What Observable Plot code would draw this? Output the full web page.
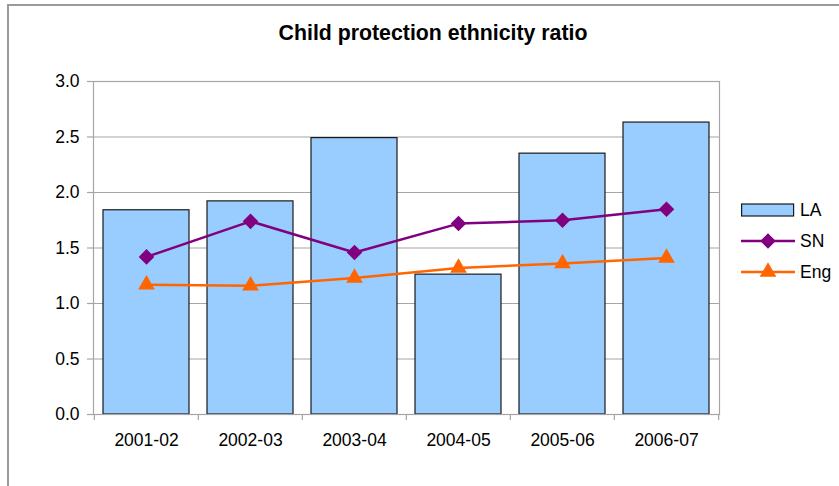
<!DOCTYPE html>
<html>
<head>
<meta charset="utf-8">
<script src="https://cdn.jsdelivr.net/npm/d3@7"></script>
<script src="https://cdn.jsdelivr.net/npm/@observablehq/plot@0.6"></script>
<style>
  html, body { margin: 0; padding: 0; overflow: hidden; background: #fff; }
  #wrap { position: relative; width: 839px; height: 486px; font-family: "Liberation Sans", Arial, sans-serif; }
  #border { position: absolute; left: 7px; top: 4px; width: 860px; height: 520px; border: 2px solid #9a9a9a; box-sizing: border-box; }
  #title { position: absolute; left: 0; top: 21px; width: 866px; text-align: center; font-weight: bold; font-size: 21.3px; color: #000; }
  #chart { position: absolute; left: 0; top: 0; }
  .leg { position: absolute; left: 741px; display: flex; align-items: center; font-size: 17.5px; color: #000; }
  .leg svg { display: block; margin-right: 5px; }
</style>
</head>
<body>
<div id="wrap">
  <div id="border"></div>
  <div id="chart"></div>
  <div id="title">Child protection ethnicity ratio</div>
  <div id="legend"></div>
</div>
<script>
const years = ["2001-02", "2002-03", "2003-04", "2004-05", "2005-06", "2006-07"];
const LA  = [1.84, 1.92, 2.49, 1.26, 2.35, 2.63];
const SN  = [1.42, 1.74, 1.46, 1.72, 1.75, 1.85];
const Eng = [1.17, 1.16, 1.23, 1.32, 1.36, 1.41];
const yTicks = [0, 0.5, 1.0, 1.5, 2.0, 2.5, 3.0];

const seriesNames = ["LA", "SN", "Eng"];
const colors = {LA: "#99ccff", SN: "#800080", Eng: "#ff6600"};

const data = years.map((year, i) => ({year, LA: LA[i], SN: SN[i], Eng: Eng[i]}));

const W = 839, H = 486;
const mL = 93, mR = 120, mT = 81, mB = 72;
const step = (W - mL - mR) / years.length;
const grid = "#a6a6a6";

const plot = Plot.plot({
  width: W,
  height: H,
  marginLeft: mL,
  marginRight: mR,
  marginTop: mT,
  marginBottom: mB,
  style: {fontFamily: "'Liberation Sans', Arial, sans-serif", fontSize: "17.5px", color: "#000", background: "transparent"},
  x: {domain: years, paddingInner: 0.175, paddingOuter: 0.0875, label: null},
  y: {domain: [0, 3], label: null},
  marks: [
    Plot.ruleY(yTicks, {stroke: grid, strokeWidth: 1.2}),
    Plot.barY(data, {x: "year", y: "LA", fill: colors.LA, stroke: "#1a1a1a", strokeWidth: 1.2}),
    Plot.frame({stroke: grid, strokeWidth: 1.2}),
    Plot.ruleX(years, {x: d => d, y1: 0, y2: 0, insetBottom: -6, dx: -step / 2, stroke: grid, strokeWidth: 1.2}),
    Plot.ruleX(years.slice(-1), {x: d => d, y1: 0, y2: 0, insetBottom: -6, dx: step / 2, stroke: grid, strokeWidth: 1.2}),
    Plot.axisY({ticks: yTicks, tickFormat: d3.format(".1f"), tickSize: 6, tickPadding: 8, stroke: grid, strokeWidth: 1.2, fill: "#000", fontSize: 17.5}),
    Plot.axisX({tickSize: 0, tickPadding: 19, fill: "#000", fontSize: 17.5}),
    Plot.line(data, {x: "year", y: "SN", stroke: colors.SN, strokeWidth: 2.5}),
    Plot.dot(data, {x: "year", y: "SN", symbol: "diamond2", r: 7, fill: colors.SN, stroke: "none"}),
    Plot.line(data, {x: "year", y: "Eng", stroke: colors.Eng, strokeWidth: 2.5}),
    Plot.dot(data, {x: "year", y: "Eng", symbol: "triangle", r: 6.2, fill: colors.Eng, stroke: "none"})
  ]
});
document.getElementById("chart").appendChild(plot);

// Legend
const legend = document.getElementById("legend");
const legTops = {LA: 199, SN: 230, Eng: 261};
seriesNames.forEach(name => {
  const item = document.createElement("div");
  item.className = "leg";
  item.style.top = legTops[name] + "px";
  const svg = d3.create("svg").attr("width", 54).attr("height", 22);
  if (name === "LA") {
    svg.append("rect").attr("x", 0.6).attr("y", 5).attr("width", 52).attr("height", 12)
      .attr("fill", colors.LA).attr("stroke", "#1a1a1a").attr("stroke-width", 1.2);
  } else {
    svg.append("line").attr("x1", 0).attr("x2", 54).attr("y1", 11).attr("y2", 11)
      .attr("stroke", colors[name]).attr("stroke-width", 2.5);
    const sym = name === "SN" ? d3.symbolDiamond2 : d3.symbolTriangle;
    const r = name === "SN" ? 7 : 6.2;
    svg.append("path").attr("transform", "translate(27,11)")
      .attr("d", d3.symbol(sym, Math.PI * r * r)()).attr("fill", colors[name]);
  }
  item.appendChild(svg.node());
  const label = document.createElement("span");
  label.textContent = name;
  item.appendChild(label);
  legend.appendChild(item);
});
</script>
</body>
</html>
